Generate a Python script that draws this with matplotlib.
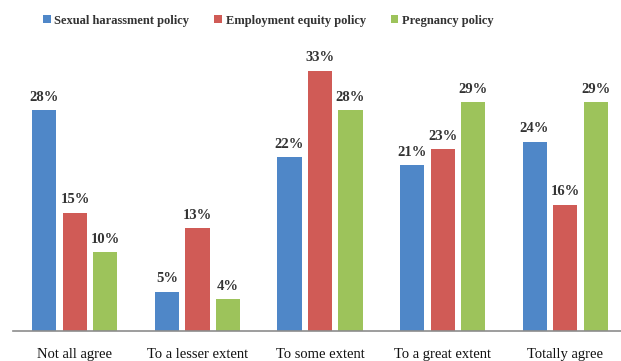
import matplotlib.pyplot as plt
import numpy as np
from matplotlib.patches import Patch

categories = ["Not all agree", "To a lesser extent", "To some extent",
              "To a great extent", "Totally agree"]
series_names = ["Sexual harassment policy", "Employment equity policy", "Pregnancy policy"]
sexual_harassment = [28, 5, 22, 21, 24]
employment_equity = [15, 13, 33, 23, 16]
pregnancy = [10, 4, 28, 29, 29]

colors = ["#4f87c8", "#d05b56", "#9dc35b"]
text_color = "#333333"

fig = plt.figure(figsize=(6.21, 3.61), dpi=100)
ax = fig.add_axes([13 / 621, 30 / 361, 608 / 621, 281 / 361])

x = np.arange(len(categories))
width = 0.196
step = 0.249

for i, (vals, col) in enumerate(zip([sexual_harassment, employment_equity, pregnancy], colors)):
    pos = x + (i - 1) * step
    ax.bar(pos, vals, width=width, color=col)
    for p, v in zip(pos, vals):
        ax.text(p, v + 0.8, f"{v}%", ha="center", va="bottom",
                fontsize=10.5, fontweight="bold", color=text_color,
                family="Liberation Serif")

ax.set_xlim(-0.506, 4.457)
ax.set_ylim(0, 35.6)
ax.set_xticks(x)
ax.set_xticklabels(categories, fontsize=10.5, family="Liberation Serif", color="#111111")
ax.tick_params(axis="x", length=0, pad=12)
ax.set_yticks([])
for s in ["top", "right", "left"]:
    ax.spines[s].set_visible(False)
ax.spines["bottom"].set_color("#8c8c8c")
ax.spines["bottom"].set_linewidth(1.2)

handles = [Patch(facecolor=c, edgecolor="none") for c in colors]
fig.legend(handles, series_names, loc="center", bbox_to_anchor=(0.432, 0.943),
           ncol=3, frameon=False, handlelength=0.6, handleheight=0.6,
           handletextpad=0.3, columnspacing=2.0,
           prop={"family": "Liberation Serif", "weight": "bold", "size": 9})
for t in fig.legends[0].get_texts():
    t.set_color(text_color)

fig.savefig("out.png", dpi=100)
